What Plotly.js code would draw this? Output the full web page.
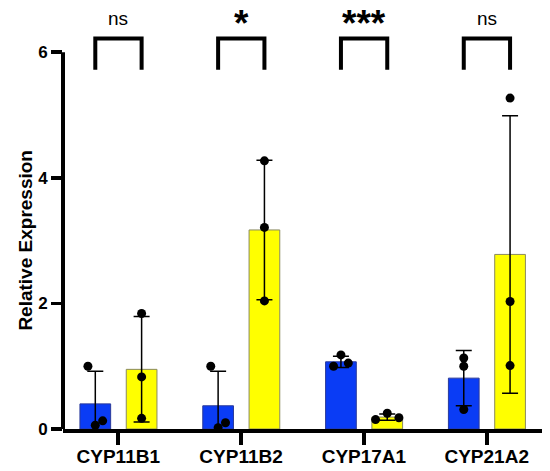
<!DOCTYPE html>
<html>
<head>
<meta charset="utf-8">
<script src="https://cdn.plot.ly/plotly-3.0.1.min.js"></script>
<style>html,body{margin:0;padding:0;background:#fff;}#chart{width:550px;height:471px;}</style>
</head>
<body>
<div id="chart"></div>
<script>
// ---- data ----
var categories = ['CYP11B1', 'CYP11B2', 'CYP17A1', 'CYP21A2'];
var controlMean = [0.40, 0.37, 1.07, 0.81];
var controlSD = [0.52, 0.55, 0.09, 0.44];
var treatedMean = [0.95, 3.17, 0.19, 2.78];
var treatedSD = [0.84, 1.11, 0.05, 2.21];
var controlPoints = [[1.00, 0.06, 0.13], [1.00, 0.02, 0.10], [1.00, 1.18, 1.05], [1.13, 1.00, 0.31]];
var treatedPoints = [[1.84, 0.83, 0.17], [4.27, 3.21, 2.04], [0.15, 0.25, 0.18], [5.27, 2.03, 1.01]];
var significance = ['ns', '*', '***', 'ns'];
var yTicks = [0, 2, 4, 6];

// ---- layout constants (positions / styles) ----
var FONT = 'Liberation Sans, Arial, sans-serif';
var BAR_W = 0.25;
var C_OFF = -0.187, T_OFF = 0.19;
var controlJitter = [[-0.06, 0.0, 0.06], [-0.06, 0.0, 0.06], [-0.06, 0.0, 0.06], [0, 0, 0]];
var treatedJitter = [[0, 0, 0], [0, 0, 0], [-0.095, 0.0, 0.095], [0, 0, 0]];
var BR_LOW = 5.72, BR_HIGH = 6.22, LBL_Y = 6.53;

var idx = categories.map(function (c, i) { return i; });
var traces = [];

traces.push({
  type: 'bar', x: idx, y: controlMean, width: BAR_W, offset: C_OFF - BAR_W / 2,
  marker: {color: '#0a3cf5', line: {color: '#2a3a9a', width: 1}},
  error_y: {type: 'data', array: controlSD, arrayminus: controlSD, symmetric: false, color: '#000', thickness: 1.5, width: 8},
  showlegend: false, hoverinfo: 'skip'
});
traces.push({
  type: 'bar', x: idx, y: treatedMean, width: BAR_W, offset: T_OFF - BAR_W / 2,
  marker: {color: '#ffff00', line: {color: '#8a8a60', width: 1}},
  error_y: {type: 'data', array: treatedSD, arrayminus: treatedSD, symmetric: false, color: '#000', thickness: 1.5, width: 8},
  showlegend: false, hoverinfo: 'skip'
});

function pts(points, jit, off) {
  var xs = [], ys = [];
  points.forEach(function (arr, i) {
    arr.forEach(function (v, k) { xs.push(i + off + jit[i][k]); ys.push(v); });
  });
  return {type: 'scatter', mode: 'markers', x: xs, y: ys, cliponaxis: false,
    marker: {color: '#000', size: 9}, showlegend: false, hoverinfo: 'skip'};
}
traces.push(pts(controlPoints, controlJitter, C_OFF));
traces.push(pts(treatedPoints, treatedJitter, T_OFF));

// significance brackets
idx.forEach(function (i) {
  traces.push({
    type: 'scatter', mode: 'lines', cliponaxis: false,
    x: [i + C_OFF, i + C_OFF, i + T_OFF, i + T_OFF],
    y: [BR_LOW, BR_HIGH, BR_HIGH, BR_LOW],
    line: {color: '#000', width: 4}, showlegend: false, hoverinfo: 'skip'
  });
});

var annotations = significance.map(function (s, i) {
  var star = s.indexOf('*') >= 0;
  return {
    x: i + (C_OFF + T_OFF) / 2, y: LBL_Y, xref: 'x', yref: 'y',
    text: star ? '<b>' + s + '</b>' : s, showarrow: false,
    yshift: star ? -5 : 0,
    font: {family: FONT, size: star ? 37 : 19, color: '#000'}
  };
});
annotations.push({
  x: 0, xref: 'paper', y: 3, yref: 'y', xshift: -37, xanchor: 'center', yanchor: 'middle', textangle: -90,
  text: '<b>Relative Expression</b>', showarrow: false,
  font: {family: FONT, size: 19, color: '#000'}
});

var layout = {
  width: 550, height: 471,
  margin: {l: 63, r: 8, t: 2, b: 42},
  paper_bgcolor: '#fff', plot_bgcolor: '#fff',
  barmode: 'overlay',
  xaxis: {
    range: [-0.45, 3.45], tickvals: idx, ticktext: categories.map(function (c) { return '<b>' + c + '</b>'; }),
    showgrid: false, zeroline: false, showline: true, linecolor: '#000', linewidth: 4,
    ticks: 'outside', ticklen: 12, tickwidth: 4, tickcolor: '#000', ticklabelstandoff: -5,
    tickfont: {family: FONT, size: 19, color: '#000'}, fixedrange: true
  },
  yaxis: {
    range: [0, 6.8], tickvals: yTicks, ticktext: yTicks.map(function (t) { return '<b>' + t + '</b>'; }),
    showgrid: false, zeroline: false, showline: false,
    ticks: 'outside', ticklen: 11, tickwidth: 3.5, tickcolor: '#000',
    tickfont: {family: FONT, size: 17, color: '#000'}, fixedrange: true
  },
  shapes: [{
    type: 'line', xref: 'paper', x0: 0, x1: 0, yref: 'y', y0: 0, y1: yTicks[yTicks.length - 1],
    line: {color: '#000', width: 4}
  }],
  annotations: annotations,
  showlegend: false
};

Plotly.newPlot('chart', traces, layout, {displayModeBar: false, staticPlot: true});
</script>
</body>
</html>
